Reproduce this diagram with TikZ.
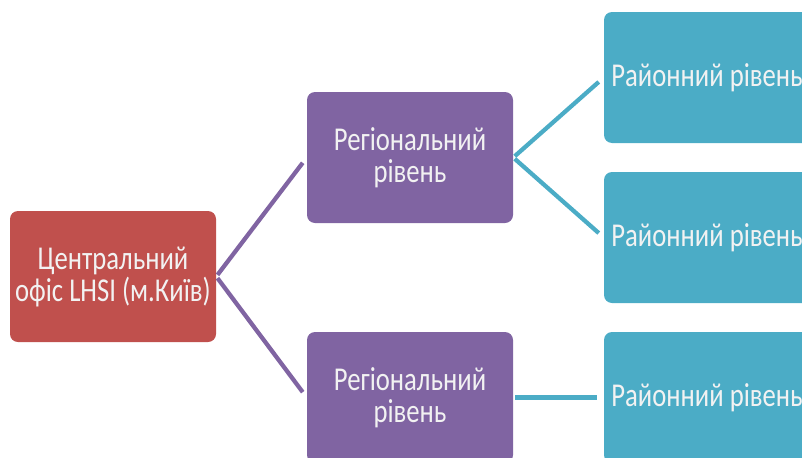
\documentclass[tikz,border=0pt]{standalone}
\usepackage{fontspec}
\setmainfont{Carlito}[FakeStretch=0.8]
\definecolor{centred}{HTML}{C0504D}
\definecolor{regviolet}{HTML}{8064A2}
\definecolor{raicyan}{HTML}{4BACC6}
\begin{document}
\begin{tikzpicture}[x=0.75pt, y=-0.75pt,
  levelbox/.style={rectangle, rounded corners=6pt, minimum width=154.5pt, minimum height=98.25pt,
    inner sep=0pt, text=white!95!black, align=center, font=\fontsize{25}{24}\selectfont},
  link/.style={line width=3.2pt, shorten <=1.5pt, shorten >=5pt}]
  \clip (0,0) rectangle (802,457);
  \node[levelbox, fill=centred] (c) at (113,276.5) {Центральний\\офіс LHSI (м.Київ)};
  \node[levelbox, fill=regviolet] (r1) at (410,157.5) {Регіональний\\рівень};
  \node[levelbox, fill=regviolet] (r2) at (410,397.5) {Регіональний\\рівень};
  \node[levelbox, fill=raicyan] (d1) at (707,77.5) {Районний рівень};
  \node[levelbox, fill=raicyan] (d2) at (707,237.5) {Районний рівень};
  \node[levelbox, fill=raicyan] (d3) at (707,397.5) {Районний рівень};
  \draw[link, regviolet] (c.east) -- (r1.west);
  \draw[link, regviolet] (c.east) -- (r2.west);
  \draw[link, raicyan] (r1.east) -- (d1.west);
  \draw[link, raicyan] (r1.east) -- (d2.west);
  \draw[link, raicyan] (r2.east) -- (d3.west);
\end{tikzpicture}
\end{document}
